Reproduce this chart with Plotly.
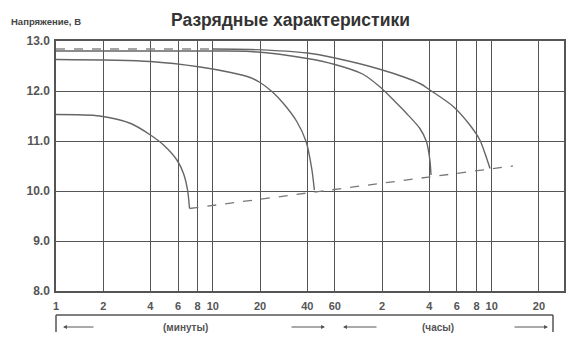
import plotly.graph_objects as go

# time in minutes, voltage in V
t_3c = [1, 1.9, 3.0, 4.0, 4.85, 5.9, 6.5, 6.9, 7.1]
v_3c = [11.53, 11.50, 11.35, 11.12, 10.92, 10.62, 10.35, 10.02, 9.65]

t_1c = [1, 4, 8.3, 13, 17.3, 20, 24, 28.2, 34.3, 39.3, 42.7, 44.4]
v_1c = [12.63, 12.59, 12.48, 12.37, 12.27, 12.17, 11.98, 11.75, 11.39, 10.99, 10.45, 10.02]

t_02c = [1, 10, 17.3, 40, 60, 90, 117.5, 148, 172, 209, 230, 242, 246]
v_02c = [12.80, 12.80, 12.79, 12.65, 12.53, 12.34, 12.07, 11.76, 11.55, 11.25, 10.99, 10.62, 10.32]

t_01c_pre = [1, 10]
v_01c_pre = [12.84, 12.84]

t_01c = [10, 17.3, 40, 60, 117.5, 209, 242, 341, 435, 504, 552, 585]
v_01c = [12.84, 12.83, 12.76, 12.66, 12.43, 12.15, 12.02, 11.69, 11.32, 11.02, 10.69, 10.45]

t_end = [7.1, 818]
v_end = [9.65, 10.5]

tick_vals = [1, 2, 4, 6, 8, 10, 20, 40, 60, 120, 240, 360, 480, 600, 1200]
tick_text = ["1", "2", "4", "6", "8", "10", "20", "40", "60", "2", "4", "6", "8", "10", "20"]
y_ticks = [8, 9, 10, 11, 12, 13]
y_text = ["8.0", "9.0", "10.0", "11.0", "12.0", "13.0"]

labels = ["3C", "1C", "0. 2C", "0. 1C"]
label_t = [6.96, 44.2, 242, 601]
label_v = [9.44, 9.78, 10.16, 10.16]

curve_color = "#666666"
grid_color = "#555555"
text_color = "#555555"
FONT = "Liberation Sans, Arial"

fig = go.Figure()
for t, v in [(t_3c, v_3c), (t_1c, v_1c), (t_02c, v_02c), (t_01c, v_01c)]:
    fig.add_trace(go.Scatter(x=t, y=v, mode="lines",
                             line=dict(color=curve_color, width=1.4, shape="spline", smoothing=0.8)))
fig.add_trace(go.Scatter(x=t_01c_pre, y=v_01c_pre, mode="lines", line=dict(color="#888888", width=1.4, dash="dash")))
fig.add_trace(go.Scatter(x=t_end, y=v_end, mode="lines", line=dict(color="#777777", width=1.3, dash="dash")))

for lab, t, v in zip(labels, label_t, label_v):
    fig.add_annotation(x=t, y=v, xref="x", yref="y", text=lab, showarrow=False,
                       xanchor="center", yanchor="middle",
                       font=dict(family=FONT, size=10, color=text_color))

fig.update_xaxes(type="log", range=[0, 3.239], tickvals=tick_vals, ticktext=tick_text,
                 showgrid=True, gridcolor=grid_color, gridwidth=1.3, zeroline=False,
                 showline=True, linecolor=grid_color, linewidth=1.5, mirror=True,
                 ticks="", tickfont=dict(family=FONT, size=11, color=text_color, weight="bold"),
                 ticklabelstandoff=4)
fig.update_yaxes(range=[8, 13], tickvals=y_ticks, ticktext=y_text,
                 showgrid=True, gridcolor=grid_color, gridwidth=1.3, zeroline=False,
                 showline=True, linecolor=grid_color, linewidth=1.5, mirror=True,
                 ticks="", tickfont=dict(family=FONT, size=12, color=text_color, weight="bold"),
                 ticklabelstandoff=2)

W, H = 580, 348
L, R, T, B = 56, 16, 41, 57
pw, ph = W - L - R, H - T - B

def px(xp):
    return (xp - L) / pw

def py(yp):
    return (H - B - yp) / ph

# bracket
fig.add_shape(type="line", xref="paper", yref="paper", x0=px(56), x1=px(553), y0=py(315), y1=py(315),
              line=dict(color=grid_color, width=1.5))
fig.add_shape(type="line", xref="paper", yref="paper", x0=px(56), x1=px(56), y0=py(315), y1=py(332),
              line=dict(color=grid_color, width=1.5))
fig.add_shape(type="line", xref="paper", yref="paper", x0=px(553), x1=px(553), y0=py(315), y1=py(332),
              line=dict(color=grid_color, width=1.5))

for (xs, xe) in [(95, 63), (290, 325), (378, 343), (513, 548)]:
    fig.add_annotation(xref="paper", yref="paper", x=px(xe), y=py(327), ax=xs - xe, ay=0,
                       axref="pixel", ayref="pixel", text="", showarrow=True,
                       arrowhead=2, arrowsize=0.8, arrowwidth=1, arrowcolor="#555555")

fig.add_annotation(xref="paper", yref="paper", x=px(185), y=py(327), text="<b>(минуты)</b>", showarrow=False,
                   xanchor="center", yanchor="middle",
                   font=dict(family=FONT, size=10, color=text_color))
fig.add_annotation(xref="paper", yref="paper", x=px(438), y=py(327), text="<b>(часы)</b>", showarrow=False,
                   xanchor="center", yanchor="middle",
                   font=dict(family=FONT, size=10, color=text_color))

fig.add_annotation(xref="paper", yref="paper", x=px(9), y=py(22), xanchor="left", yanchor="middle",
                   text="<b>Напряжение, В</b>",
                   showarrow=False, font=dict(family=FONT, size=9.5, color="#444444"))
fig.add_annotation(xref="paper", yref="paper", x=px(290), y=py(20), xanchor="center", yanchor="middle",
                   text="<b>Разрядные характеристики</b>",
                   showarrow=False, font=dict(family=FONT, size=17.5, color="#333333"))

fig.update_layout(width=W, height=H, margin=dict(l=L, r=R, t=T, b=B), showlegend=False,
                  plot_bgcolor="white", paper_bgcolor="white",
                  font=dict(family=FONT, color=text_color))
fig.write_html("out.html")
